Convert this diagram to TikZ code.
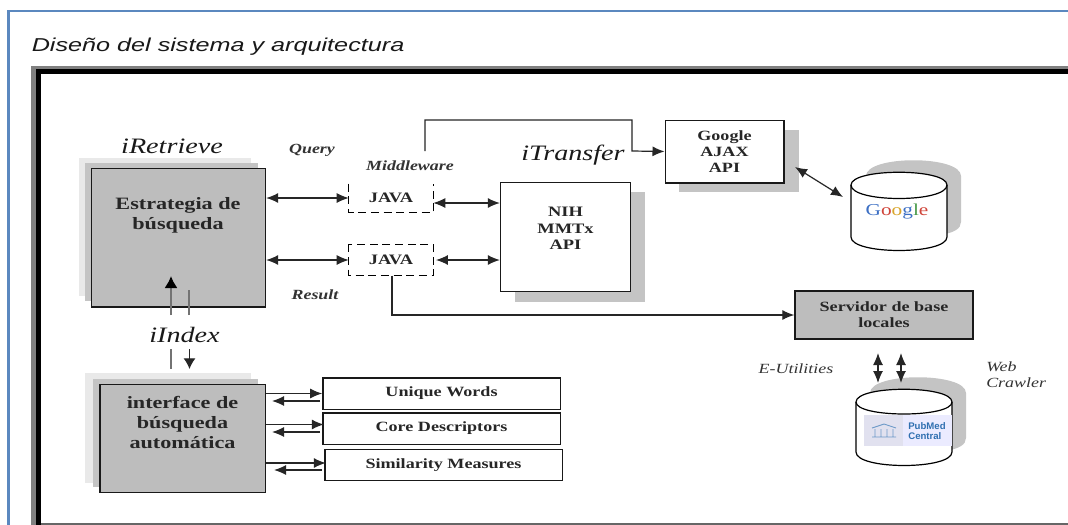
\documentclass[tikz,border=0pt]{standalone}
\usepackage{fontspec}
\setmainfont[FakeStretch=1.28]{Liberation Serif}
\setsansfont[FakeStretch=1.35]{Liberation Sans}
\newfontfamily\plainsans{Liberation Sans}
\usetikzlibrary{arrows.meta}
\definecolor{frameblue}{HTML}{5B88BF}
\definecolor{boxgray}{HTML}{BDBDBD}
\definecolor{shadegray}{HTML}{C4C4C4}
\definecolor{shadelight}{HTML}{E9E9E9}
\definecolor{gblue}{HTML}{3C6FC4}
\definecolor{gred}{HTML}{D0453A}
\definecolor{gyellow}{HTML}{D9A52B}
\definecolor{ggreen}{HTML}{4A9A4A}
\definecolor{pmblue}{HTML}{2F6FB0}
\tikzset{
  x=0.75pt,y=-0.75pt,
  box/.style={draw=black!90,line width=1pt,inner sep=0pt,align=center,font=\bfseries\fontsize{10.6}{12}\selectfont,text=black!85},
  whitebox/.style={box,fill=white},
  graybox/.style={box,fill=boxgray},
  label text/.style={inner sep=0pt,align=center,font=\bfseries\fontsize{13}{15}\selectfont,text=black!85},
  ital/.style={inner sep=0pt,align=left,font=\itshape\bfseries\fontsize{10.5}{12}\selectfont,text=black!80},
  headital/.style={inner sep=0pt,font=\itshape\fontsize{16.5}{18}\selectfont,text=black!90},
  shade1/.style={fill=shadegray,draw=none},
  shade2/.style={fill=shadelight,draw=none},
  conn/.style={line width=0.9pt,draw=black!85},
  tip/.style={-{Latex[length=9pt,width=7.5pt]}},
  tips/.style={{Latex[length=9pt,width=7.5pt]}-{Latex[length=9pt,width=7.5pt]}},
  dashbox/.style={draw=black,line width=0.8pt,dash pattern=on 6pt off 3.5pt},
}
\begin{document}
\begin{tikzpicture}
\useasboundingbox (0,0) rectangle (1068,525);
\fill[white] (0,0) rectangle (1068,525);
% blue frame
\draw[frameblue,line width=2.2pt] (8.5,525) -- (8.5,11) -- (1068,11);
% title
\node[anchor=base west,inner sep=0pt,font=\sffamily\itshape\fontsize{14}{16}\selectfont,text=black!90] (title) at (31.5,51) {Diseño del sistema y arquitectura};
% inner frame
\fill[black!50] (31,66) rectangle (1068,68.5);
\fill[black!50] (31,66) rectangle (35.5,525);
\fill[black] (36,68.5) rectangle (1068,73.5);
\fill[black] (36,68.5) rectangle (41,525);
\fill[black!60] (41,523) rectangle (1068,525);
% shadows
\fill[shade2] (79,158) rectangle (251,296);
\fill[shade1] (85,163) rectangle (258,301);
\fill[shade2] (85,373) rectangle (251,483);
\fill[shade1] (93,379) rectangle (258,487);
\fill[shade1] (515,192) rectangle (645,302);
\fill[shade1] (679,130) rectangle (799,192);
% google cylinder shadow
\fill[shade1] (866,176) .. controls (866,155) and (961,155) .. (961,176) -- (961,222) .. controls (961,236) and (930,236) .. (915,236) -- (866,236) -- cycle;
% pubmed cylinder shadow
\fill[shade1] (870,393) .. controls (870,372) and (966,372) .. (966,393) -- (966,438) .. controls (966,452) and (935,452) .. (920,452) -- (870,452) -- cycle;
% boxes
\node[graybox,minimum width=130.5pt,minimum height=104pt] (ret) at (178.5,237.5) {};
\node[label text] (rett) at (178,215) {Estrategia de\\búsqueda};
\node[graybox,minimum width=124pt,minimum height=81pt] (int) at (182.5,438.5) {};
\node[label text] (intt) at (182.5,422) {interface de\\búsqueda\\automática};
\node[whitebox,minimum width=97.5pt,minimum height=81.5pt] (nih) at (565.5,237) {};
\node[label text,font=\bfseries\fontsize{10.8}{12.4}\selectfont] (nihT) at (565.5,228.5) {NIH\\MMTx\\API};
\node[whitebox,minimum width=89pt,minimum height=47pt] (aj) at (724.5,151.5) {Google\\AJAX\\API};
\node[graybox,minimum width=133.5pt,minimum height=36pt] (srv) at (884,315) {Servidor de base\\locales};
\node[whitebox,minimum width=178pt,minimum height=23.5pt] (uw) at (441.5,393.5) {Unique Words};
\node[whitebox,minimum width=178pt,minimum height=23.5pt] (cd) at (441.5,428.5) {Core Descriptors};
\node[whitebox,minimum width=178pt,minimum height=23.5pt] (sm) at (443.5,465) {Similarity Measures};
% JAVA dashed
\node[inner sep=0pt,minimum width=63pt,minimum height=21pt,font=\bfseries\fontsize{10.8}{12}\selectfont,text=black!85] (j1) at (391,198) {JAVA};
\node[inner sep=0pt,minimum width=63pt,minimum height=23pt,font=\bfseries\fontsize{10.8}{12}\selectfont,text=black!85] (j2) at (391,260) {JAVA};
\draw[dashbox] (j1.north west) -- (j1.south west) -- (j1.south east) -- (j1.north east);
\draw[dashbox] (j2.north west) rectangle (j2.south east);
% labels
\node[headital] (lr) at (172,146) {iRetrieve};
\node[headital] (lt) at (573,155) {iTransfer};
\node[headital] (li) at (184.5,335) {iIndex};
\node[ital] (lq) at (312,150) {Query};
\node[ital] (lm) at (410,166) {Middleware};
\node[ital] (lres) at (315,295) {Result};
\node[ital,font=\itshape\fontsize{10.5}{12}\selectfont] (le) at (796,369) {E-Utilities};
\node[ital,anchor=west,font=\itshape\fontsize{10.5}{12}\selectfont] (lw) at (986,375) {Web\\Crawler};
% cylinders
\draw[line width=0.9pt,fill=white] (851,185) .. controls (851,168) and (947,168) .. (947,185) -- (947,237) .. controls (947,255) and (851,255) .. (851,237) -- cycle;
\draw[line width=0.9pt] (851,185) .. controls (851,203) and (947,203) .. (947,185);
\node[inner sep=0pt,font=\fontsize{12.5}{12}\selectfont] (glogo) at (897,212) {\textcolor{gblue}{G}\textcolor{gred}{o}\textcolor{gyellow}{o}\textcolor{gblue}{g}\textcolor{ggreen}{l}\textcolor{gred}{e}};
\coordinate (gc) at (843,197);
\coordinate (ajc) at (795,167);
\draw[line width=0.9pt,fill=white] (856,402) .. controls (856,385) and (952,385) .. (952,402) -- (952,452) .. controls (952,470) and (856,470) .. (856,452) -- cycle;
\draw[line width=0.9pt] (856,402) .. controls (856,418) and (952,418) .. (952,402);
% pubmed logo
\fill[blue!30!gray!18] (864,415) rectangle (903,446);
\fill[blue!8] (903,415) rectangle (952,446);
\draw[pmblue!70,line width=0.7pt] (872,428) -- (884,424) -- (896,428) (872,437) -- (896,437)
  (875,429) -- (875,437) (881,429) -- (881,437) (887,429) -- (887,437) (893,429) -- (893,437);
\node[inner sep=0pt,align=left,font=\plainsans\bfseries\fontsize{7.2}{8}\selectfont,text=pmblue] (plogo) at (927,431) {PubMed\\Central};
% connectors
\coordinate (j1r) at ([yshift=-3.75pt]j1.east);
\coordinate (j2r) at ([xshift=2pt]j2.east);
\draw[conn,tips] (ret.east |- j1.west) -- (j1.west);
\draw[conn,tips] (j1r) -- (nih.west |- j1r);
\draw[conn,tips] (ret.east |- j2.west) -- (j2.west);
\draw[conn,tips] (j2r) -- (nih.west |- j2r);
\draw[conn,tips] (ajc) -- (gc);
\coordinate (aa) at (425,151);
\coordinate (ab) at (425,120);
\coordinate (ac) at (632,120);
\coordinate (ad) at (632,151);
\draw[conn,tip] (aa) -- (ab) -- (ac) -- (ad) -- (aj.west);
\draw[conn,tip] ([xshift=0.75pt]j2.south) |- (srv.west);
% iIndex links
\coordinate (up0) at (171,315);
\coordinate (up1) at (171,276);
\coordinate (ln0) at (189,315);
\coordinate (ln1) at (189,290);
\coordinate (dn0) at (171,349);
\coordinate (dn1) at (171,369);
\coordinate (dn2) at (189.5,349);
\coordinate (dn3) at (189.5,369);
\draw[draw=black!55,line width=1.8pt,-{Latex[length=9pt,width=10pt,black]}] (up0) -- (up1);
\draw[draw=black!55,line width=1.8pt] (ln0) -- (ln1);
\draw[draw=black!55,line width=1.8pt] (dn0) -- (dn1);
\draw[conn,-{Latex[length=8pt,width=9pt]}] (dn2) -- (dn3);
% right links of interface
\coordinate (r1a) at (320,401);
\coordinate (r1b) at (272,401);
\coordinate (r2a) at (320,432);
\coordinate (r2b) at (272,432);
\coordinate (r3a) at (322,470);
\coordinate (r3b) at (274,470);
\draw[conn,tip] (int.east |- uw.west) -- (uw.west);
\draw[conn,tip] (r1a) -- (r1b);
\draw[conn,tip] (int.east |- cd.west) ++(0,-4) -- ++(58,0);
\draw[conn,tip] (r2a) -- (r2b);
\draw[conn,tip] (int.east |- sm.west) ++(0,-2) -- ++(60,0);
\draw[conn,tip] (r3a) -- (r3b);
% E-utilities arrows
\coordinate (eu1a) at (878,353);
\coordinate (eu1b) at (878,383);
\coordinate (eu2a) at (901,353);
\coordinate (eu2b) at (901,383);
\draw[conn,tips] (eu1a) -- (eu1b);
\draw[conn,tips] (eu2a) -- (eu2b);
\end{tikzpicture}
\end{document}
